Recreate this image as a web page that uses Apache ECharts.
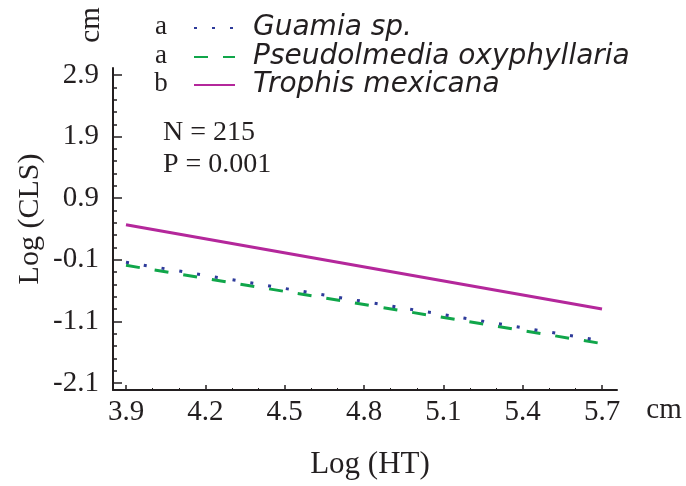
<!DOCTYPE html>
<html><head><meta charset="utf-8">
<script src="https://cdn.jsdelivr.net/npm/echarts@6/dist/echarts.min.js"></script>
<style>html,body{margin:0;padding:0;background:#fff}#c{width:686px;height:486px}</style>
</head><body><div id="c"></div>
<script>
// ---- data ----
const seriesNames = ['Guamia sp.', 'Pseudolmedia oxyphyllaria', 'Trophis mexicana'];
const groupLetters = ['a', 'a', 'b'];
const xEnds = [3.9, 5.7];
const guamiaValues = [-0.14, -1.415];
const pseudolmediaValues = [-0.19, -1.46];
const trophisValues = [0.47, -0.90];
const xTickMin = 3.9, xTickMax = 5.7, xTickStep = 0.3;
const yTickMin = -2.1, yTickMax = 2.9, yTickStep = 1;
const statsText = ['N = 215', 'P = 0.001'];
const unitText = 'cm';
const xTitle = 'Log (HT)';
const yTitle = 'Log (CLS)';

// ---- style ----
const INK = '#231f20';
const COLORS = ['#2e3b9a', '#10a64a', '#b4279b'];
const SERIF = '"Liberation Serif", "Times New Roman", serif';
const ITALIC = '"DejaVu Sans", sans-serif';

const chart = echarts.init(document.getElementById('c'), null, {renderer: 'canvas'});

function pairs(vals) { return xEnds.map((x, i) => [x, vals[i]]); }

const serifLabel = {fontFamily: SERIF, fontSize: 29, color: INK};

const option = {
  animation: false,
  backgroundColor: '#fff',
  grid: [
    {left: 113, right: 69, top: 68, bottom: 96},   // frame (axis lines)
    {left: 126, right: 84, top: 75, bottom: 103}   // data + ticks
  ],
  xAxis: [
    {gridIndex: 0, type: 'value', min: 0, max: 1, axisLine: {show: true, onZero: false, lineStyle: {color: INK, width: 2}},
     axisTick: {show: false}, axisLabel: {show: false}, splitLine: {show: false}},
    {gridIndex: 1, type: 'value', min: xTickMin, max: xTickMax, interval: xTickStep, offset: 7,
     axisLine: {show: false, onZero: false},
     axisTick: {show: true, inside: true, length: 5, lineStyle: {color: INK, width: 1.5}},
     minorTick: {show: true, splitNumber: 3, length: 2, lineStyle: {color: INK, width: 1}},
     axisLabel: Object.assign({margin: 8, formatter: v => v.toFixed(1)}, serifLabel),
     splitLine: {show: false}}
  ],
  yAxis: [
    {gridIndex: 0, type: 'value', min: 0, max: 1, axisLine: {show: true, onZero: false, lineStyle: {color: INK, width: 2}},
     axisTick: {show: false}, axisLabel: {show: false}, splitLine: {show: false}},
    {gridIndex: 1, type: 'value', min: yTickMin, max: yTickMax, interval: yTickStep, offset: 13,
     axisLine: {show: false, onZero: false},
     axisTick: {show: true, inside: true, length: 9, lineStyle: {color: INK, width: 1.5}},
     minorTick: {show: true, splitNumber: 5, length: 4, lineStyle: {color: INK, width: 1.5}},
     axisLabel: Object.assign({margin: 14, formatter: v => v.toFixed(1)}, serifLabel),
     splitLine: {show: false}}
  ],
  legend: seriesNames.map((n, i) => ({
    data: [n], left: 193, top: [14, 43, 71][i], orient: 'vertical',
    itemWidth: 41, itemHeight: 14, itemGap: 0, itemTextGap: 20, padding: 0,
    selectedMode: false,
    itemStyle: {opacity: 0},
    textStyle: {fontFamily: ITALIC, fontStyle: 'italic', fontSize: 28, color: INK, lineHeight: 28,
                padding: [0, 0, 0, 13]}
  })),
  series: [
    {name: seriesNames[1], type: 'line', xAxisIndex: 1, yAxisIndex: 1, data: pairs(pseudolmediaValues),
     symbol: 'none', color: COLORS[1], lineStyle: {color: COLORS[1], width: 3, type: [14, 15]}, z: 2},
    {name: seriesNames[2], type: 'line', xAxisIndex: 1, yAxisIndex: 1, data: pairs(trophisValues),
     symbol: 'none', color: COLORS[2], lineStyle: {color: COLORS[2], width: 3, type: 'solid'}, z: 2},
    {name: seriesNames[0], type: 'line', xAxisIndex: 1, yAxisIndex: 1, data: pairs(guamiaValues),
     symbol: 'none', color: COLORS[0], lineStyle: {color: COLORS[0], width: 3, type: [3, 15]}, z: 3}
  ],
  graphic: [
    ...groupLetters.map((t, i) => ({type: 'text', x: 161, y: [27, 56, 84][i],
      style: {text: t, fontFamily: SERIF, fontSize: 27, fill: INK, align: 'center', verticalAlign: 'middle'}})),
    ...statsText.map((t, i) => ({type: 'text', x: 163, y: [133, 165][i],
      style: {text: t, fontFamily: SERIF, fontSize: 28, fill: INK, align: 'left', verticalAlign: 'middle'}})),
    {type: 'text', x: 30, y: 219, rotation: Math.PI / 2,
     style: {text: yTitle, fontFamily: SERIF, fontSize: 30, fill: INK, align: 'center', verticalAlign: 'middle'}},
    {type: 'text', x: 370, y: 465,
     style: {text: xTitle, fontFamily: SERIF, fontSize: 31, fill: INK, align: 'center', verticalAlign: 'middle'}},
    {type: 'text', x: 91, y: 25, rotation: Math.PI / 2,
     style: {text: unitText, fontFamily: SERIF, fontSize: 29, fill: INK, align: 'center', verticalAlign: 'middle'}},
    {type: 'text', x: 664, y: 410,
     style: {text: unitText, fontFamily: SERIF, fontSize: 29, fill: INK, align: 'center', verticalAlign: 'middle'}}
  ]
};
chart.setOption(option);
</script>
</body></html>
